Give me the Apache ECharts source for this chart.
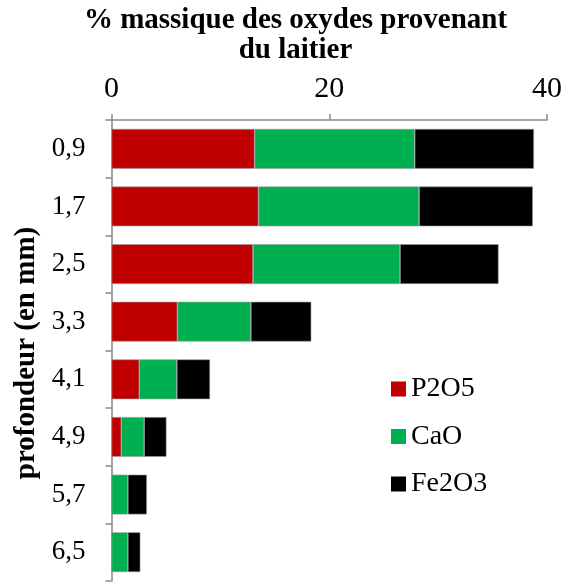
<!DOCTYPE html>
<html>
<head>
<meta charset="utf-8">
<script src="https://cdn.jsdelivr.net/npm/echarts@6/dist/echarts.min.js"></script>
<style>
  html, body { margin: 0; padding: 0; background: #fff; }
  #chart { width: 574px; height: 583px; }
</style>
</head>
<body>
<div id="chart"></div>
<script>
// Depth below the surface (mm), top to bottom
const depths = ['0,9', '1,7', '2,5', '3,3', '4,1', '4,9', '5,7', '6,5'];
// Mass percentage of each slag oxide at that depth
const p2o5 = [13.15, 13.5, 13.0, 6.05, 2.55, 0.9, 0, 0];
const cao = [14.7, 14.75, 13.5, 6.75, 3.45, 2.1, 1.5, 1.5];
const fe2o3 = [10.95, 10.45, 9.05, 5.55, 3.05, 2.05, 1.75, 1.15];
const xTicks = [0, 20, 40];

const serif = '"Liberation Serif", "Times New Roman", serif';
const chart = echarts.init(document.getElementById('chart'));

function barSeries(name, data, color) {
  return {
    name: name,
    type: 'bar',
    stack: 'total',
    data: data,
    barCategoryGap: '31%',
    itemStyle: { color: color, borderColor: '#9a9a9a', borderWidth: 0.6 },
    emphasis: { disabled: true }
  };
}

chart.setOption({
  animation: false,
  title: {
    text: '% massique des oxydes provenant\ndu laitier',
    left: 290.5,
    top: 1,
    textAlign: 'center',
    textStyle: { fontFamily: serif, fontWeight: 'bold', fontSize: 29, lineHeight: 30, color: '#000' }
  },
  legend: {
    orient: 'vertical',
    left: 386,
    top: 370,
    itemWidth: 15,
    itemHeight: 15,
    itemGap: 19.5,
    icon: 'rect',
    itemStyle: { borderWidth: 0 },
    textStyle: { fontFamily: serif, fontSize: 28, color: '#000' },
    data: ['P2O5', 'CaO', 'Fe2O3']
  },
  grid: { left: 111.5, right: 27, top: 120, bottom: 2, outerBoundsMode: 'none', containLabel: false },
  xAxis: {
    type: 'value',
    position: 'top',
    min: xTicks[0],
    max: xTicks[xTicks.length - 1],
    interval: xTicks[1] - xTicks[0],
    axisLine: { show: true, lineStyle: { color: '#888', width: 1.5 } },
    axisTick: { show: true, length: 6, lineStyle: { color: '#888', width: 1.5 } },
    axisLabel: { margin: 16, fontFamily: serif, fontSize: 30, color: '#000' },
    splitLine: { show: false }
  },
  yAxis: {
    type: 'category',
    inverse: true,
    data: depths,
    name: 'profondeur (en mm)',
    nameLocation: 'middle',
    nameGap: 68,
    nameTextStyle: { fontFamily: serif, fontWeight: 'bold', fontSize: 29, color: '#000', padding: [0, 5, 0, 0] },
    axisLine: { show: true, lineStyle: { color: '#888', width: 1.5 } },
    axisTick: { show: true, length: 6, lineStyle: { color: '#888', width: 1.5 } },
    axisLabel: { margin: 26, fontFamily: serif, fontSize: 27, color: '#000' }
  },
  series: [
    barSeries('P2O5', p2o5, '#c00000'),
    barSeries('CaO', cao, '#00b050'),
    barSeries('Fe2O3', fe2o3, '#000000')
  ]
});
</script>
</body>
</html>
